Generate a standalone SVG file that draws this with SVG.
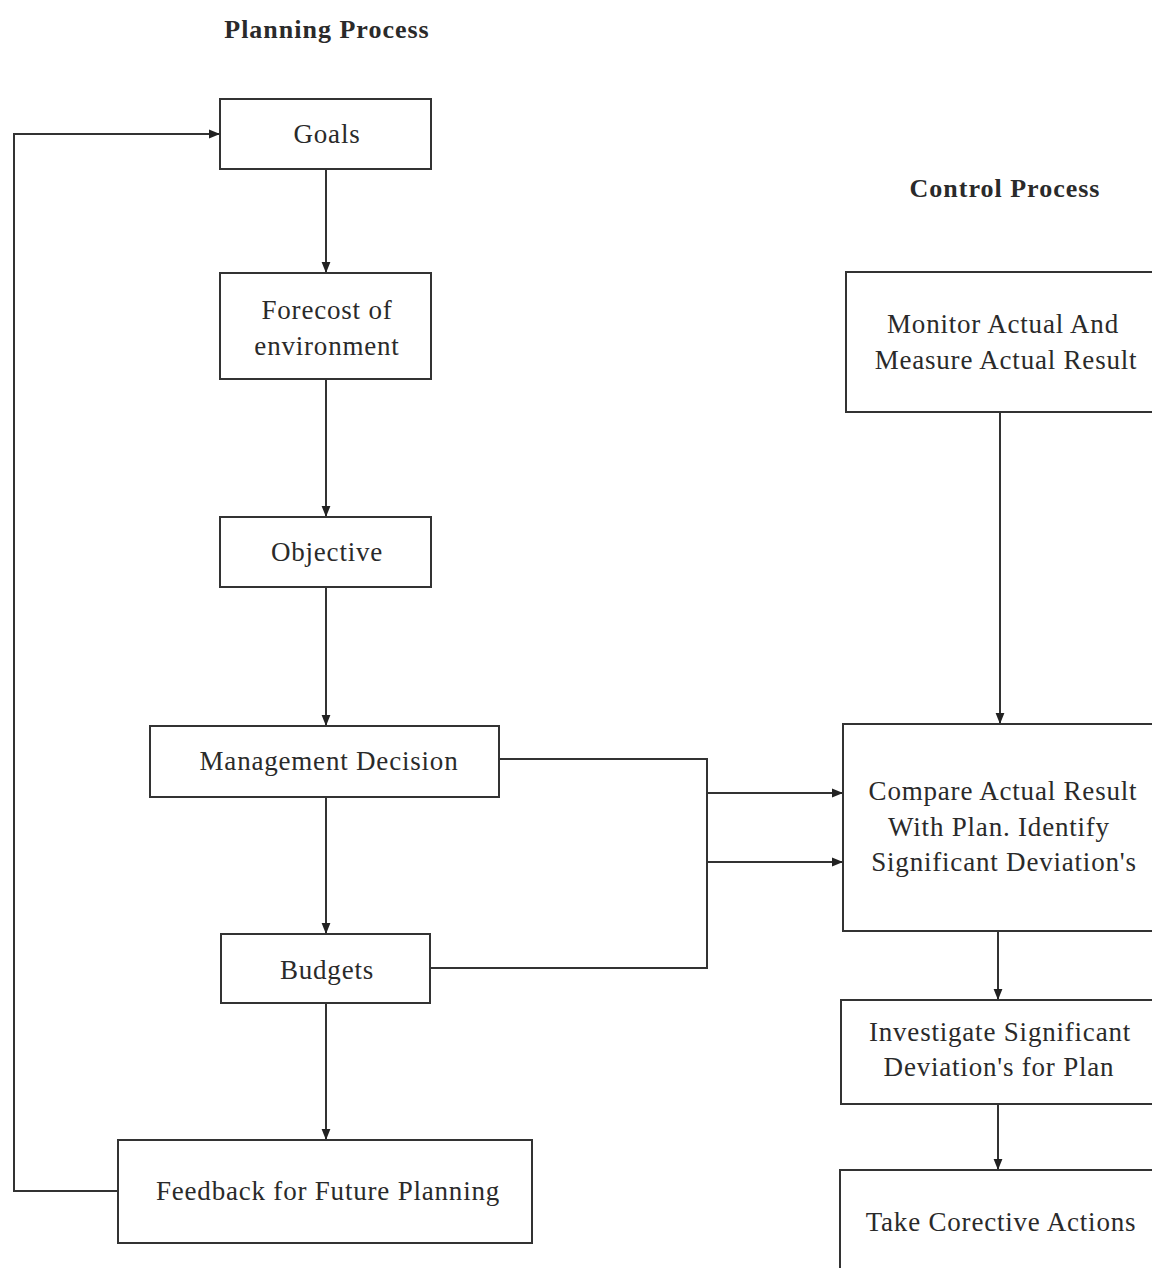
<svg xmlns="http://www.w3.org/2000/svg" width="1152" height="1268" viewBox="0 0 1152 1268">
<defs>
<marker id="ah" viewBox="0 0 10 10" refX="10" refY="5" markerWidth="11" markerHeight="11" markerUnits="userSpaceOnUse" orient="auto">
<path d="M0,1 L10,5 L0,9 z" fill="#222"/>
</marker>
<style>
.box{fill:#fff;stroke:#333;stroke-width:2}
.t{font-family:"Liberation Serif","Times New Roman",serif;font-size:27px;letter-spacing:0.8px;fill:#2a2a2a;text-anchor:middle}
.h{font-family:"Liberation Serif","Times New Roman",serif;font-size:26px;letter-spacing:1px;font-weight:bold;fill:#2a2a2a;text-anchor:middle}
.c{fill:none;stroke:#333;stroke-width:2}
</style>
</defs>
<rect width="1152" height="1268" fill="#fff"/>
<text class="h" x="327" y="38">Planning Process</text>
<text class="h" x="1005" y="197">Control Process</text>
<g id="connectors">
<path class="c" d="M326,169 V273" marker-end="url(#ah)"/>
<path class="c" d="M326,379 V517" marker-end="url(#ah)"/>
<path class="c" d="M326,587 V726" marker-end="url(#ah)"/>
<path class="c" d="M326,797 V934" marker-end="url(#ah)"/>
<path class="c" d="M326,1003 V1140" marker-end="url(#ah)"/>
<path class="c" d="M118,1191 H14 V134 H220" marker-end="url(#ah)"/>
<path class="c" d="M499,759 H707 V968 H430"/>
<path class="c" d="M707,793 H843" marker-end="url(#ah)"/>
<path class="c" d="M707,862 H843" marker-end="url(#ah)"/>
<path class="c" d="M1000,412 V724" marker-end="url(#ah)"/>
<path class="c" d="M998,931 V1000" marker-end="url(#ah)"/>
<path class="c" d="M998,1104 V1170" marker-end="url(#ah)"/>
</g>
<g id="goals"><rect class="box" x="220" y="99" width="211" height="70"/><text class="t" x="327" y="143">Goals</text></g>
<g id="forecost"><rect class="box" x="220" y="273" width="211" height="106"/><text class="t" x="327" y="319">Forecost of</text><text class="t" x="327" y="355">environment</text></g>
<g id="objective"><rect class="box" x="220" y="517" width="211" height="70"/><text class="t" x="327" y="561">Objective</text></g>
<g id="management"><rect class="box" x="150" y="726" width="349" height="71"/><text class="t" x="329" y="770">Management Decision</text></g>
<g id="budgets"><rect class="box" x="221" y="934" width="209" height="69"/><text class="t" x="327" y="979">Budgets</text></g>
<g id="feedback"><rect class="box" x="118" y="1140" width="414" height="103"/><text class="t" x="328" y="1200">Feedback for Future Planning</text></g>
<g id="monitor"><rect class="box" x="846" y="272" width="316" height="140"/><text class="t" x="1003" y="333">Monitor Actual And</text><text class="t" x="1006" y="369">Measure Actual Result</text></g>
<g id="compare"><rect class="box" x="843" y="724" width="319" height="207"/><text class="t" x="1003" y="800">Compare Actual Result</text><text class="t" x="999" y="836">With Plan. Identify</text><text class="t" x="1004" y="871">Significant Deviation's</text></g>
<g id="investigate"><rect class="box" x="841" y="1000" width="321" height="104"/><text class="t" x="1000" y="1041">Investigate Significant</text><text class="t" x="999" y="1076">Deviation's for Plan</text></g>
<g id="corrective"><rect class="box" x="840" y="1170" width="322" height="110"/><text class="t" x="1001" y="1231">Take Corective Actions</text></g>
</svg>
